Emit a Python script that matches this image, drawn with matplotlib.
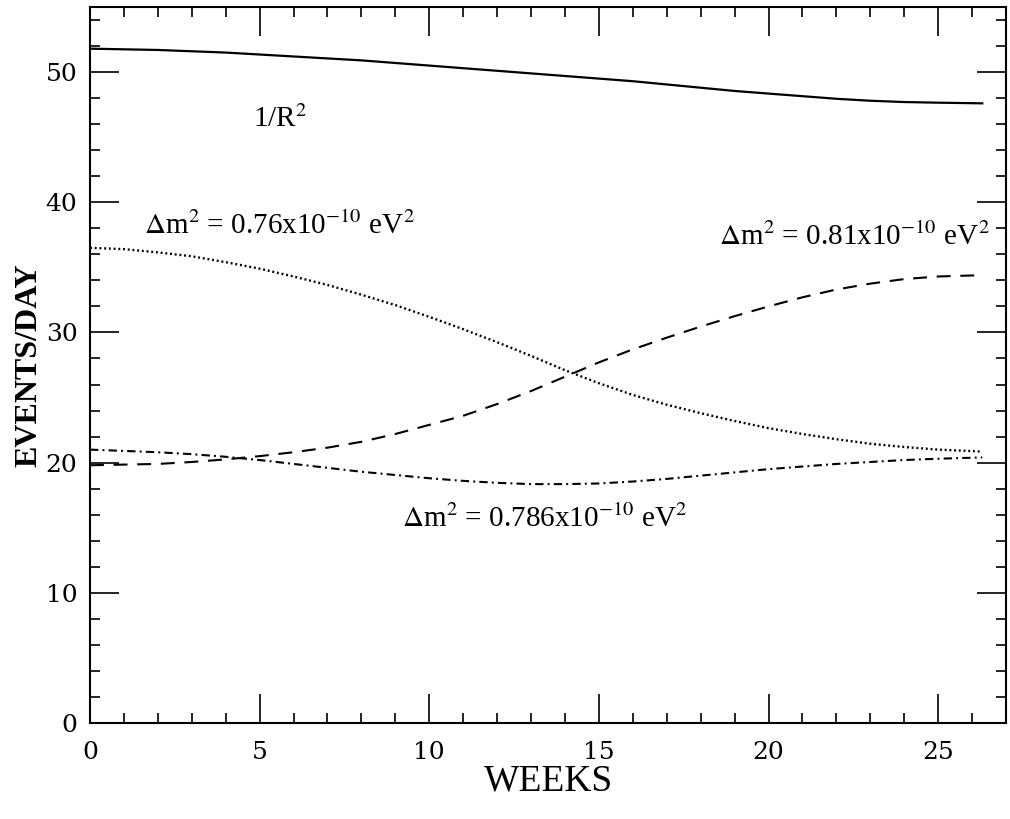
import matplotlib
matplotlib.use("Agg")
import matplotlib.pyplot as plt
from matplotlib.ticker import MultipleLocator

plt.rcParams['font.family'] = 'serif'
plt.rcParams['font.serif'] = ['Liberation Serif', 'DejaVu Serif']
plt.rcParams['mathtext.fontset'] = 'stix'
plt.rcParams['lines.scale_dashes'] = False

# values
weeks = [0, 1, 2, 3, 4, 5, 6, 7, 8, 9, 10, 11, 12, 13, 14, 15, 16, 17, 18,
         19, 20, 21, 22, 23, 24, 25, 26.3]
inv_r2 = [51.8, 51.75, 51.7, 51.6, 51.5, 51.35, 51.2, 51.05, 50.9, 50.7, 50.5,
          50.3, 50.1, 49.9, 49.7, 49.5, 49.3, 49.05, 48.8, 48.55, 48.35, 48.15,
          47.95, 47.8, 47.7, 47.65, 47.6]
dm_076 = [36.5, 36.4, 36.15, 35.85, 35.4, 34.9, 34.3, 33.65, 32.9, 32.1, 31.2,
          30.25, 29.25, 28.2, 27.1, 26.1, 25.2, 24.45, 23.8, 23.2, 22.65, 22.2,
          21.8, 21.45, 21.2, 21.0, 20.85]
dm_081 = [19.8, 19.85, 19.9, 20.05, 20.25, 20.5, 20.8, 21.15, 21.6, 22.2, 22.9,
          23.6, 24.5, 25.5, 26.6, 27.7, 28.7, 29.6, 30.45, 31.25, 32.0, 32.7,
          33.3, 33.75, 34.1, 34.3, 34.4]
dm_0786 = [21.0, 20.9, 20.8, 20.65, 20.45, 20.2, 19.9, 19.6, 19.3, 19.05, 18.8,
           18.6, 18.45, 18.35, 18.35, 18.4, 18.55, 18.75, 19.0, 19.25, 19.5,
           19.7, 19.9, 20.05, 20.2, 20.3, 20.4]

fig = plt.figure(figsize=(10.1, 8.19), dpi=100)
ax = fig.add_axes([90 / 1010, 1 - 723 / 819, 916 / 1010, 716 / 819])

ax.plot(weeks, inv_r2, color='black', lw=1.6)
ax.plot(weeks, dm_076, color='black', lw=1.7, linestyle=(0, (1.4, 2.0)))
ax.plot(weeks, dm_081, color='black', lw=1.5, linestyle=(0, (10, 7)))
ax.plot(weeks, dm_0786, color='black', lw=1.5, linestyle=(0, (6, 3, 1.4, 3)))

ax.text(4.8, 45.8, r'1/R$^2$', fontsize=21)
ax.text(1.6, 37.6, r'$\Delta$m$^2$ = 0.76x10$^{-10}$ eV$^2$', fontsize=21)
ax.text(18.55, 36.7, r'$\Delta$m$^2$ = 0.81x10$^{-10}$ eV$^2$', fontsize=21)
ax.text(9.2, 15.05, r'$\Delta$m$^2$ = 0.786x10$^{-10}$ eV$^2$', fontsize=21)

ax.set_xlim(0, 27)
ax.set_ylim(0, 55)
ax.xaxis.set_major_locator(MultipleLocator(5))
ax.xaxis.set_minor_locator(MultipleLocator(1))
ax.yaxis.set_major_locator(MultipleLocator(10))
ax.yaxis.set_minor_locator(MultipleLocator(2))
ax.tick_params(which='both', direction='in', top=True, right=True, width=1.2,
               labelsize=18, labelfontfamily='DejaVu Serif')
ax.tick_params(which='major', length=21)
ax.tick_params(which='minor', length=7)
ax.tick_params(axis='x', pad=13)
ax.tick_params(axis='y', pad=9)
for s in ax.spines.values():
    s.set_linewidth(1.5)

ax.set_xlabel('WEEKS', fontsize=27, labelpad=0)
ax.set_ylabel('EVENTS/DAY', fontsize=23, fontweight='bold', labelpad=2)

fig.savefig('out.png', dpi=100)
